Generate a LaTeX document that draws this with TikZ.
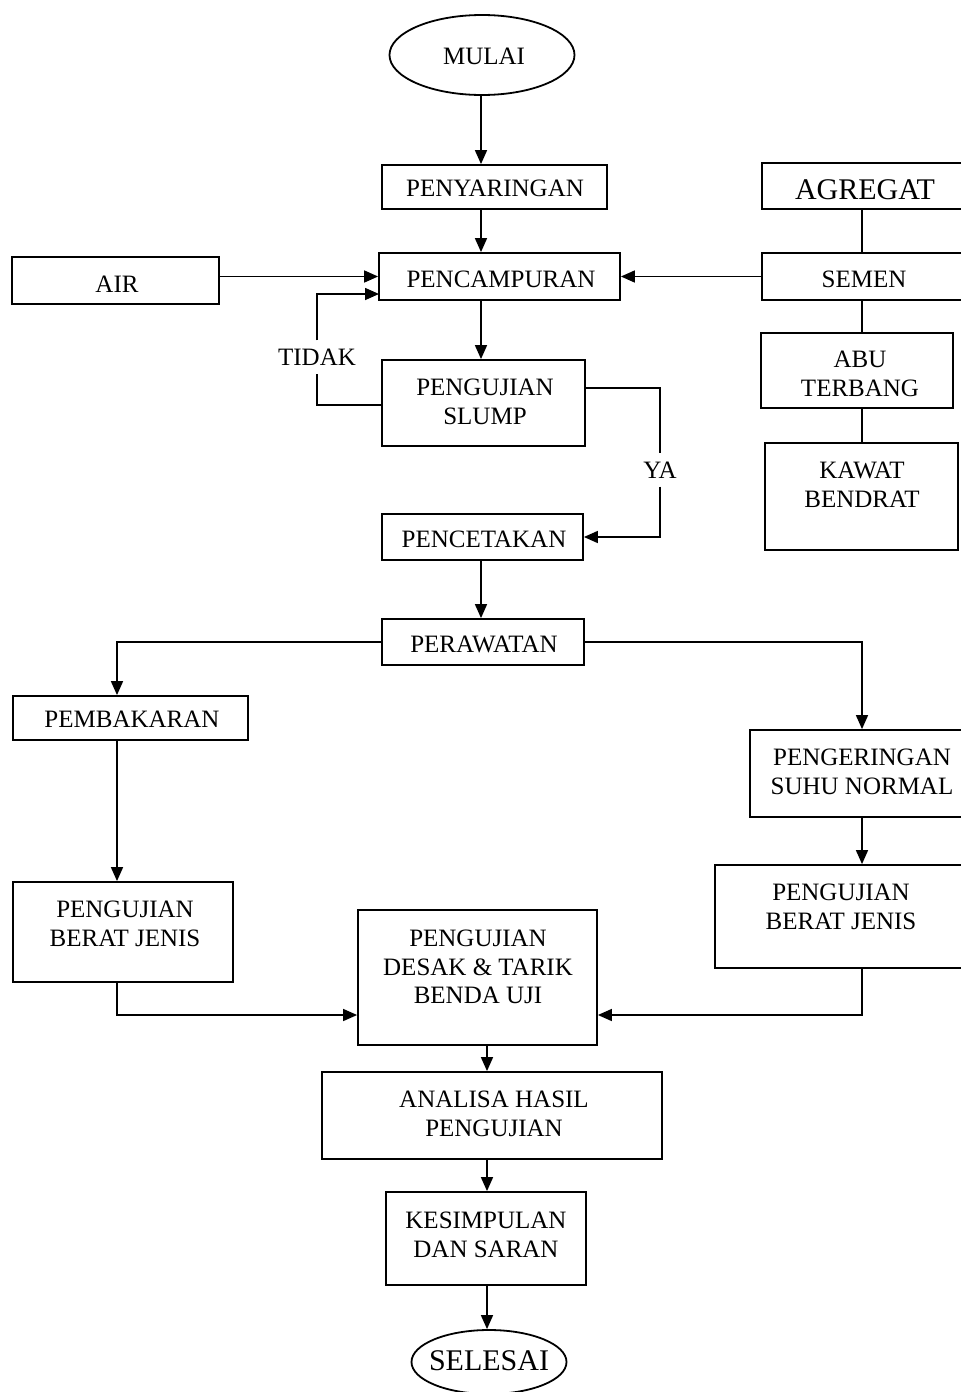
\documentclass[tikz,border=0pt]{standalone}
\usepackage{fontspec}
\setmainfont{Liberation Serif}
\usetikzlibrary{arrows.meta,calc,shapes.geometric}
\begin{document}
\begin{tikzpicture}[x=0.5pt,y=-0.5pt,
  box/.style={draw,line width=0.9pt,inner sep=0pt},
  oval/.style={draw,ellipse,line width=0.9pt,inner sep=0pt},
  txt/.style={inner sep=1pt,align=center,font=\fontsize{12.5}{14.4}\selectfont},
  bigtxt/.style={inner sep=1pt,align=center,font=\fontsize{15}{18}\selectfont},
  lbl/.style={inner sep=4pt,font=\fontsize{12.5}{14.4}\selectfont},
  con/.style={line width=0.8pt},
  arr/.style={line width=0.8pt,-{Triangle[length=7pt,width=6pt]}}]
\useasboundingbox (0,0) rectangle (960,1392);
% shapes
\node[oval,minimum width=92.5pt,minimum height=40pt] (mulai) at (482,55) {};
\node[box,minimum width=112.5pt,minimum height=22pt] (peny) at (494.5,187) {};
\node[box,minimum width=100pt,minimum height=23pt] (agr) at (862,186) {};
\node[box,minimum width=103.5pt,minimum height=23.5pt] (air) at (115.5,280.5) {};
\node[box,minimum width=120.5pt,minimum height=23.5pt] (penc) at (499.5,276.5) {};
\node[box,minimum width=100pt,minimum height=23.5pt] (semen) at (862,276.5) {};
\node[box,minimum width=101.5pt,minimum height=43pt] (slump) at (483.5,403) {};
\node[box,minimum width=96pt,minimum height=37.5pt] (abu) at (857,370.5) {};
\node[box,minimum width=96.5pt,minimum height=53.5pt] (kawat) at (861.5,496.5) {};
\node[box,minimum width=100.5pt,minimum height=23pt] (cetak) at (482.5,537) {};
\node[box,minimum width=101pt,minimum height=23pt] (rawat) at (483,642) {};
\node[box,minimum width=117.5pt,minimum height=22pt] (bakar) at (130.5,718) {};
\node[box,minimum width=106pt,minimum height=43.5pt] (kering) at (856,773.5) {};
\node[box,minimum width=110pt,minimum height=50pt] (bjl) at (123,932) {};
\node[box,minimum width=123.5pt,minimum height=51.5pt] (bjr) at (838.5,916.5) {};
\node[box,minimum width=119.5pt,minimum height=67.5pt] (desak) at (477.5,977.5) {};
\node[box,minimum width=170pt,minimum height=43.5pt] (analisa) at (492,1115.5) {};
\node[box,minimum width=100pt,minimum height=46.5pt] (kesimp) at (486,1238.5) {};
\node[oval,minimum width=77.5pt,minimum height=32pt] (selesai) at (489,1362) {};
% texts
\node[txt] (mulai-t) at (484,56) {MULAI};
\node[txt] (peny-t) at (495,188) {PENYARINGAN};
\node[bigtxt] (agr-t) at (865,190) {AGREGAT};
\node[txt] (air-t) at (117,284) {AIR};
\node[txt] (penc-t) at (501,279) {PENCAMPURAN};
\node[txt] (semen-t) at (864,279) {SEMEN};
\node[txt] (slump-t) at (485,402) {PENGUJIAN\\SLUMP};
\node[txt] (abu-t) at (860,374) {ABU\\TERBANG};
\node[txt] (kawat-t) at (862,485) {KAWAT\\BENDRAT};
\node[txt] (cetak-t) at (484,539) {PENCETAKAN};
\node[txt] (rawat-t) at (484,644) {PERAWATAN};
\node[txt] (bakar-t) at (132,719) {PEMBAKARAN};
\node[txt] (kering-t) at (862,772) {PENGERINGAN\\SUHU NORMAL};
\node[txt] (bjl-t) at (125,924) {PENGUJIAN\\BERAT JENIS};
\node[txt] (bjr-t) at (841,907) {PENGUJIAN\\BERAT JENIS};
\node[txt] (desak-t) at (478,967) {PENGUJIAN\\DESAK \& TARIK\\BENDA UJI};
\node[txt] (analisa-t) at (494,1114) {ANALISA HASIL\\PENGUJIAN};
\node[txt] (kesimp-t) at (486,1235) {KESIMPULAN\\DAN SARAN};
\node[bigtxt] (selesai-t) at (489,1361) {SELESAI};
\node[lbl] (tidak) at (317,357) {TIDAK};
\node[lbl] (ya) at (660,470) {YA};
% helper coordinates
\coordinate (cx) at (481,0);
\coordinate (dx) at (487,0);
\coordinate (lx) at (117,0);
\coordinate (rx) at (862,0);
\coordinate (jy) at (0,1015);
\coordinate (ty) at (0,405);
\coordinate (pin2) at (379,294);
\coordinate (yaout) at (585,388);
% connectors
\draw[arr] (mulai.south -| cx) -- (peny.north -| cx);
\draw[arr] (peny.south -| cx) -- (penc.north -| cx);
\draw[arr] (air.east |- penc.west) -- (penc.west);
\draw[arr] (semen.west) -- (penc.east);
\draw[arr] (penc.south -| cx) -- (slump.north -| cx);
\draw[con] (slump.west |- ty) -| (tidak.south);
\draw[arr] (tidak.north) |- (pin2);
\draw[con] (yaout) -| (ya.north);
\draw[arr] (ya.south) |- (cetak.east);
\draw[con] (agr.south -| rx) -- (semen.north -| rx);
\draw[con] (semen.south -| rx) -- (abu.north -| rx);
\draw[con] (abu.south -| rx) -- (kawat.north -| rx);
\draw[arr] (cetak.south -| cx) -- (rawat.north -| cx);
\draw[arr] (rawat.west) -| (bakar.north -| lx);
\draw[arr] (rawat.east) -| (kering.north -| rx);
\draw[arr] (bakar.south -| lx) -- (bjl.north -| lx);
\draw[arr] (kering.south -| rx) -- (bjr.north -| rx);
\draw[arr] (bjl.south -| lx) |- (desak.west |- jy);
\draw[arr] (bjr.south -| rx) |- (desak.east |- jy);
\draw[arr] (desak.south -| dx) -- (analisa.north -| dx);
\draw[arr] (analisa.south -| dx) -- (kesimp.north -| dx);
\draw[arr] (kesimp.south -| dx) -- (selesai.north -| dx);
\end{tikzpicture}
\end{document}
